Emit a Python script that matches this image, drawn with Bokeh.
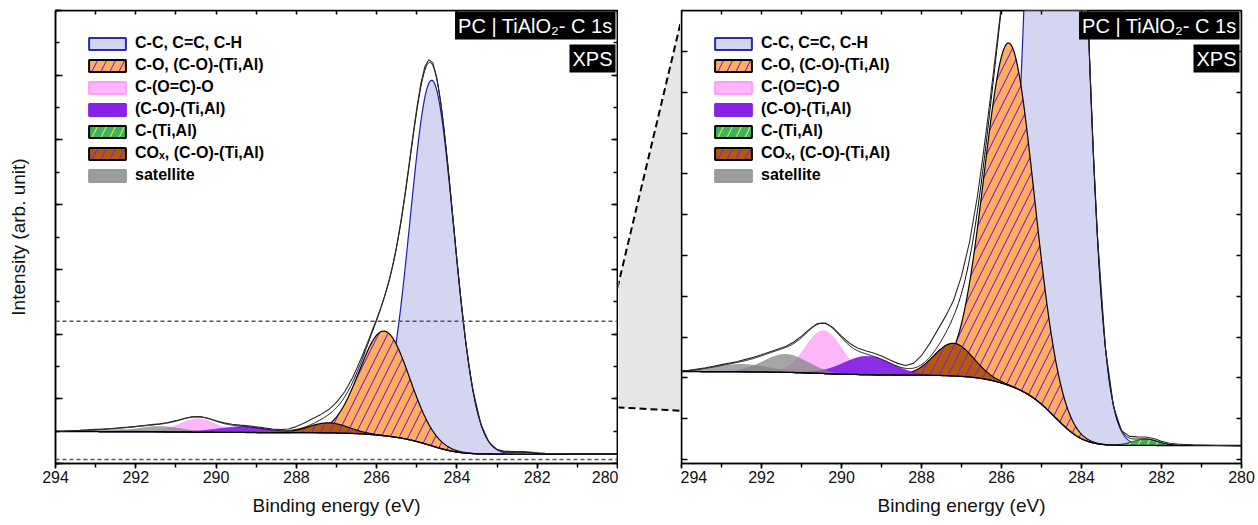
import numpy as np
from bokeh.plotting import figure
from bokeh.layouts import row
from bokeh.models import (Range1d, LinearAxis, SingleIntervalTicker, FixedTicker, Legend,
                          LegendItem, Label, Span, CustomJSTickFormatter)
from bokeh.embed import file_html
from bokeh.resources import INLINE

# ---------------- data ----------------
comp_names = ["C-C, C=C, C-H", "C-O, (C-O)-(Ti,Al)", "C-(O=C)-O", "(C-O)-(Ti,Al)",
              "C-(Ti,Al)", "COₓ, (C-O)-(Ti,Al)", "satellite", "satellite"]
comp_center = [284.62, 285.81, 290.45, 289.35, 282.40, 287.20, 291.40, 292.50]   # eV
comp_height = [56500, 16180, 2017, 864, 300, 1543, 864, 363]                       # counts above background
comp_fwhm = [1.28, 1.45, 1.05, 1.40, 0.75, 1.15, 1.30, 1.60]                       # eV
bg_high = 4946   # background level at 294 eV
bg_low = 1450    # background level at 280 eV

meas_energy = [294.0, 293.8, 293.6, 293.4, 293.2, 293.0, 292.8, 292.6, 292.4, 292.2, 292.0, 291.8,
               291.6, 291.4, 291.2, 291.0, 290.8, 290.6, 290.4, 290.2, 290.0, 289.8, 289.6, 289.4,
               289.2, 289.0, 288.8, 288.6, 288.4, 288.2, 288.0, 287.8, 287.6, 287.4, 287.2, 287.0,
               286.8, 286.6, 286.5, 286.4, 286.3, 286.2, 286.1, 286.0, 285.9, 285.8, 285.7, 285.6,
               285.5, 285.4, 285.3, 285.2, 285.1, 285.0, 284.9, 284.8, 284.7, 284.6, 284.5, 284.4,
               284.3, 284.2, 284.1, 284.0, 283.9, 283.8, 283.7, 283.6, 283.4, 283.2, 283.0, 282.8,
               282.6, 282.4, 282.2, 282.0, 281.8, 281.6, 281.4, 281.2, 281.0, 280.8, 280.6, 280.4,
               280.2, 280.0]
meas_counts = [4960, 5000, 5060, 5120, 5190, 5270, 5340, 5420, 5520, 5620, 5740, 5870,
               6000, 6130, 6330, 6620, 6950, 7210, 7240, 7000, 6620, 6280, 6060, 5930,
               5820, 5680, 5500, 5330, 5230, 5330, 5700, 6250, 6900, 7550, 8300, 9450,
               11050, 13250, 14600, 16050, 17550, 19100, 20700, 22300, 24000, 25900, 28050, 30600,
               33650, 37250, 41350, 45850, 50500, 54900, 58650, 61300, 62400, 61900, 59600, 55700,
               50500, 44450, 37950, 31450, 25350, 19850, 15150, 11300, 6000, 3300, 2150, 1880,
               1860, 1850, 1780, 1650, 1560, 1520, 1500, 1480, 1470, 1460, 1450, 1440,
               1430, 1420]

x_start, x_end = 294, 280
full_ylim = (0, 70000)
zoom_ylim = (600, 22000)

# ---------------- styles ----------------
FONT = "Liberation Sans"
HATCH_SCALE = 18
HATCH_W = 1.1
styles = [
    dict(fill="#D3D5F1", alpha=1.0, line="#1E1EA6", lw=1.2, hatch=None, hc=None, leg_line="#2B2BB0"),
    dict(fill="#FFAE5E", alpha=1.0, line="#000000", lw=1.2, hatch="/", hc="#7D22E3", leg_line="#000000"),
    dict(fill="#FFB6FB", alpha=1.0, line="#FFA6F6", lw=1.0, hatch=None, hc=None, leg_line="#FF9EF5"),
    dict(fill="#8722E6", alpha=0.95, line="#8722E6", lw=1.0, hatch=None, hc=None, leg_line="#8722E6"),
    dict(fill="#3BB26C", alpha=1.0, line="#1A3A1A", lw=1.0, hatch="/", hc="#E8F000", leg_line="#000000"),
    dict(fill="#B3590C", alpha=1.0, line="#000000", lw=1.2, hatch="/", hc="#7D22E3", leg_line="#000000"),
    dict(fill="#828282", alpha=0.72, line=None, lw=0, hatch=None, hc=None, leg_line="#9A9A9A"),
    dict(fill="#828282", alpha=0.72, line=None, lw=0, hatch=None, hc=None, leg_line="#9A9A9A"),
]
draw_order = [0, 1, 5, 2, 3, 6, 7, 4]
legend_order = [0, 1, 2, 3, 4, 5, 6]

# ---------------- model curves from the fitted peak parameters ----------------
E = np.linspace(280, 294, 1401)
comps = [h * np.exp(-4 * np.log(2) * ((E - c) / f) ** 2)
         for c, h, f in zip(comp_center, comp_height, comp_fwhm)]
total = np.sum(comps, axis=0)
cum = np.concatenate([[0.0], np.cumsum((total[1:] + total[:-1]) / 2 * np.diff(E))])
background = bg_low + (bg_high - bg_low) * cum / cum[-1]
envelope = background + total

# ---------------- layout constants (page pixels, no body margin) ----------------
H = 524
TOP, BOTTOM = 10, 61
W1, W_MID, W2 = 618, 62, 577
P1_LEFT = 55


def no_labels():
    return CustomJSTickFormatter(code="return ''")


def make_panel(width, ylim, ytick_major, ytick_minor_n, min_left, min_right, left_tick_in, with_ylabel):
    p = figure(width=width, height=H, x_range=Range1d(x_start, x_end),
               y_range=Range1d(*ylim), output_backend="svg", toolbar_location=None,
               x_axis_location="below", y_axis_location="left" if with_ylabel else None,
               min_border_left=min_left, min_border_right=min_right,
               min_border_top=TOP, min_border_bottom=BOTTOM)
    p.background_fill_color = "white"
    p.border_fill_color = "white"
    p.outline_line_color = "black"
    p.outline_line_width = 1.5
    p.xgrid.visible = False
    p.ygrid.visible = False

    xa = p.xaxis[0]
    xa.ticker = SingleIntervalTicker(interval=2, num_minor_ticks=2)
    xa.major_tick_in = 0
    xa.major_tick_out = 5
    xa.minor_tick_in = 0
    xa.minor_tick_out = 4
    xa.major_label_standoff = 2
    xa.major_label_text_font = FONT
    xa.major_label_text_font_size = "16px"
    xa.major_label_text_color = "#111111"
    xa.axis_label = "Binding energy (eV)"
    xa.axis_label_text_font = FONT
    xa.axis_label_text_font_size = "19px"
    xa.axis_label_text_font_style = "normal"
    xa.axis_label_text_color = "#111111"
    xa.axis_label_standoff = 9
    xa.axis_line_width = 1.5
    xa.major_tick_line_width = 1.5
    xa.minor_tick_line_width = 1.5

    if isinstance(ytick_major, (int, float)):
        yt = SingleIntervalTicker(interval=ytick_major, num_minor_ticks=ytick_minor_n)
        yt2 = SingleIntervalTicker(interval=ytick_major, num_minor_ticks=ytick_minor_n)
    else:
        yt = FixedTicker(ticks=list(ytick_major))
        yt2 = FixedTicker(ticks=list(ytick_major))

    if with_ylabel:
        ya = p.yaxis[0]
        ya.ticker = yt
        ya.formatter = no_labels()
        ya.major_label_standoff = 0
        ya.axis_label = "Intensity (arb. unit)"
        ya.axis_label_text_font = FONT
        ya.axis_label_text_font_size = "19px"
        ya.axis_label_text_font_style = "normal"
        ya.axis_label_text_color = "#111111"
        ya.axis_label_standoff = 27
    else:
        ya = LinearAxis(fixed_location=x_start, ticker=yt, formatter=no_labels())
        p.add_layout(ya, "left")
    ya.major_tick_in = left_tick_in
    ya.major_tick_out = 0
    ya.minor_tick_in = 4
    ya.minor_tick_out = 0
    ya.axis_line_width = 1.5
    ya.major_tick_line_width = 1.5
    ya.minor_tick_line_width = 1.5

    ra = LinearAxis(fixed_location=x_end, ticker=yt2, formatter=no_labels(),
                    major_tick_in=left_tick_in - 1, major_tick_out=0, minor_tick_in=4, minor_tick_out=0,
                    axis_line_width=1.5, major_tick_line_width=1.5, minor_tick_line_width=1.5)
    p.add_layout(ra, "right")
    ta = LinearAxis(fixed_location=ylim[1], ticker=SingleIntervalTicker(interval=1, num_minor_ticks=0),
                    formatter=no_labels(), major_tick_in=4, major_tick_out=0, minor_tick_in=0,
                    minor_tick_out=0, axis_line_width=1.5, major_tick_line_width=1.5)
    p.add_layout(ta, "above")

    # components
    for i in draw_order:
        s = styles[i]
        kw = dict(fill_color=s["fill"], fill_alpha=s["alpha"])
        if s["hatch"]:
            kw.update(hatch_pattern=s["hatch"], hatch_color=s["hc"], hatch_weight=HATCH_W,
                      hatch_scale=HATCH_SCALE)
        p.varea(x=E, y1=background, y2=background + comps[i], **kw)
        if s["line"]:
            p.line(E, background + comps[i], line_color=s["line"], line_width=s["lw"])
    p.line(E, background, line_color="black", line_width=1.3)
    p.line(E, envelope, line_color="black", line_width=1.0)
    p.line(meas_energy, meas_counts, line_color="#2A2A2A", line_width=1.1)

    # legend with dummy swatches
    items = []
    nan = [float("nan")]
    for i in legend_order:
        s = styles[i]
        kw = dict(fill_color=s["fill"], fill_alpha=1.0, line_color=s["leg_line"], line_width=2)
        if s["fill"] == "#828282":
            kw["fill_color"] = "#9B9B9B"
        if s["hatch"]:
            kw.update(hatch_pattern=s["hatch"], hatch_color=s["hc"], hatch_weight=HATCH_W,
                      hatch_scale=HATCH_SCALE)
        r = p.quad(left=nan, right=nan, top=nan, bottom=nan, **kw)
        items.append(LegendItem(label=comp_names[i], renderers=[r]))
    leg = Legend(items=items, location=(29, 278), orientation="vertical",
                 glyph_width=46, glyph_height=15, label_height=20, spacing=2, padding=0, margin=0,
                 label_standoff=5, label_text_font=FONT, label_text_font_size="16px",
                 label_text_font_style="bold", label_text_color="#000000",
                 border_line_alpha=0, background_fill_alpha=0)
    p.add_layout(leg, "center")

    # boxed titles
    t1 = Label(x=x_end, y=ylim[1], text="PC | TiAlO₂- C 1s", anchor="top_right",
               x_offset=-2, y_offset=-1, text_color="white", text_font=FONT, text_font_size="20px",
               background_fill_color="black", padding=3)
    t2 = Label(x=x_end, y=ylim[1], text="XPS", anchor="top_right",
               x_offset=-2, y_offset=-34, text_color="white", text_font=FONT, text_font_size="20px",
               background_fill_color="black", padding=3)
    p.add_layout(t1)
    p.add_layout(t2)
    return p


# left: full view
p1 = make_panel(W1, full_ylim, 10000, 2, P1_LEFT, 1, 7, True)
for yv in zoom_ylim:
    p1.add_layout(Span(location=yv, dimension="width", line_color="#555555", line_width=1.5,
                       line_dash="4 3"))

# right: zoomed view
zr = zoom_ylim[1] - zoom_ylim[0]
step = zr * 40.8 / 453.0
first = zoom_ylim[0] + zr * 4.0 / 453.0
right_ticks = [first + k * step for k in range(11)]
p2 = make_panel(W2, zoom_ylim, right_ticks, 0, 1, 16, 6, False)

# connector between the two frames (page pixel coordinates)
f_top = TOP
f_bot = H - BOTTOM
x0 = W1
x1 = W1 + W_MID


def y_left(v):
    return f_bot - (v - full_ylim[0]) / (full_ylim[1] - full_ylim[0]) * (f_bot - f_top)


pm = figure(width=W_MID, height=H, x_range=Range1d(x0, x1), y_range=Range1d(H, 0),
            output_backend="svg", toolbar_location=None, x_axis_location=None, y_axis_location=None,
            min_border_left=0, min_border_right=0, min_border_top=0, min_border_bottom=0)
pm.outline_line_color = None
pm.xgrid.visible = False
pm.ygrid.visible = False
yh, yl = y_left(zoom_ylim[1]), y_left(zoom_ylim[0])
pm.patch([x0 - 1, x1 + 1, x1 + 1, x0 - 1], [yh, f_top, f_bot, yl], fill_color="#E6E6E6", line_color=None)
pm.line([x0 - 1, x1 + 1], [yh, f_top], line_color="black", line_width=2, line_dash="7 4")
pm.line([x0 - 1, x1 + 1], [yl, f_bot], line_color="black", line_width=2, line_dash="7 4")

layout = row(p1, pm, p2, spacing=0)
open("out.html", "w").write(file_html(layout, INLINE))
